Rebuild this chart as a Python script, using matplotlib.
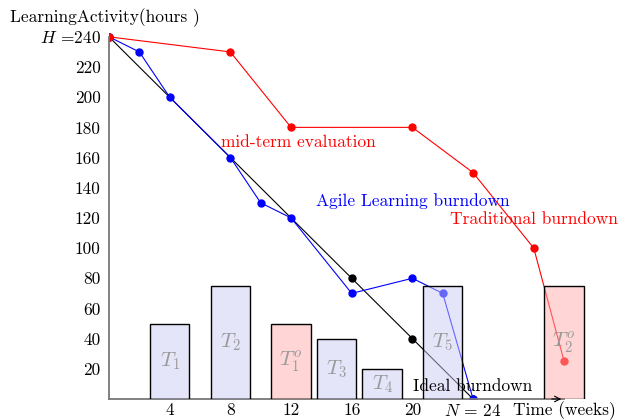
import matplotlib
matplotlib.use("Agg")
import matplotlib.pyplot as plt

# week / remaining hours
ideal_x = [0, 16, 20, 24]
ideal_y = [240, 80, 40, 0]
agile_x = [0, 2, 4, 8, 10, 12, 16, 20, 22, 24]
agile_y = [240, 230, 200, 160, 130, 120, 70, 80, 70, 0]
trad_x = [0, 8, 12, 20, 24, 28, 30]
trad_y = [240, 230, 180, 180, 150, 100, 25]

bar_x = [4, 8, 12, 15, 18, 22, 30]
bar_h = [50, 75, 50, 40, 20, 75, 75]
bar_lbl = ["$T_1$", "$T_2$", "$T_1^o$", "$T_3$", "$T_4$", "$T_5$", "$T_2^o$"]
bar_kind = ["agile", "agile", "trad", "agile", "agile", "agile", "trad"]

xticks = [4, 8, 12, 16, 20, 24]
xtick_lbl = ["4", "8", "12", "16", "20", "$N$ = 24"]
yticks = list(range(20, 241, 20))
ytick_lbl = [str(v) for v in yticks[:-1]] + ["$H$ =240"]

plt.rcParams["font.family"] = "cmr10"
plt.rcParams["mathtext.fontset"] = "cm"
plt.rcParams["axes.formatter.use_mathtext"] = True
fs = 12.5

fig = plt.figure(figsize=(6.19, 4.2), dpi=100)
# x: 0 -> px 109, 15.17 px/week ; y: 0 -> px 399, 1.509 px/hour
ax = fig.add_axes([109/619, 21/420, 33*15.17/619, 250*1.509/420])
ax.set_xlim(0, 33)
ax.set_ylim(0, 250)

ax.plot([0, 24], [240, 0], color="black", lw=0.8, zorder=2)
ax.plot(ideal_x, ideal_y, "o", color="black", ms=5, zorder=2)
ax.plot(agile_x, agile_y, "-o", color="blue", lw=0.8, ms=5, zorder=2)
ax.plot(trad_x, trad_y, "-o", color="red", lw=0.8, ms=5, zorder=2)

fills = {"agile": (0.80, 0.80, 0.96, 0.5), "trad": (1.0, 0.68, 0.68, 0.5)}
for x, h, lbl, k in zip(bar_x, bar_h, bar_lbl, bar_kind):
    ax.bar(x, h, width=2.6, facecolor=fills[k], edgecolor="black", lw=1.0, zorder=3)
    ax.text(x, h / 2, lbl, color="#999999", fontsize=15, ha="center", va="center", zorder=4)

for s in ["top", "right"]:
    ax.spines[s].set_visible(False)
ax.spines["left"].set_bounds(0, 240)
ax.spines["bottom"].set_bounds(0, 30)
ax.spines["left"].set_color("#777777")
ax.spines["bottom"].set_color("#777777")
ax.spines["left"].set_linewidth(1.3)
ax.spines["bottom"].set_linewidth(1.3)
ax.annotate("", xy=(30, 0), xytext=(29, 0),
            arrowprops=dict(arrowstyle="->", color="black", lw=0.8))

ax.set_xticks(xticks, xtick_lbl)
ax.set_yticks(yticks, ytick_lbl)
ax.tick_params(length=0, labelsize=fs)
ax.tick_params(axis="x", pad=3)
ax.tick_params(axis="y", pad=6)

ax.text(12.5, 170, "mid-term evaluation", color="red", fontsize=fs, ha="center", va="center")
ax.text(20, 131, "Agile Learning burndown", color="blue", fontsize=fs, ha="center", va="center")
ax.text(28, 119, "Traditional burndown", color="red", fontsize=fs, ha="center", va="center")
ax.text(24, 8.6, "Ideal burndown", color="black", fontsize=fs, ha="center", va="center", zorder=5)
ax.text(30, -7.6, "Time (weeks)", fontsize=fs, ha="center", va="center", clip_on=False)
fig.text(10/619, 1 - 18/420, "LearningActivity(hours )", fontsize=fs, ha="left", va="center")

fig.savefig("out.png", dpi=100)
